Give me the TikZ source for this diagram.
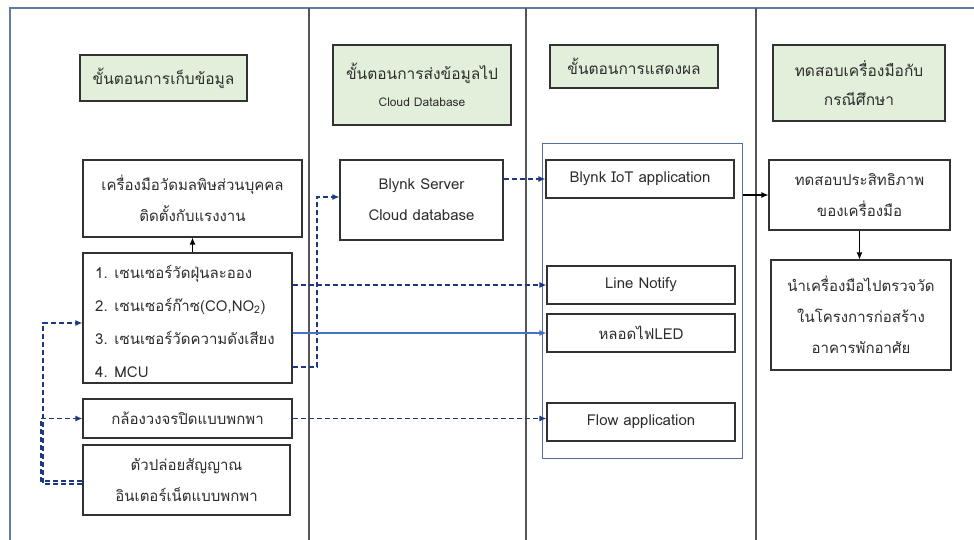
\documentclass[tikz,border=0pt]{standalone}
\usepackage{fontspec}
\setmainfont[Script=Thai]{Loma}
\usetikzlibrary{arrows.meta}
\definecolor{navyd}{RGB}{31,56,130}
\definecolor{lblue}{RGB}{68,114,196}
\definecolor{contc}{RGB}{84,110,160}
\definecolor{framec}{RGB}{100,120,170}
\definecolor{divc}{RGB}{85,85,85}
\definecolor{hdrfill}{RGB}{226,239,218}
\definecolor{boxc}{RGB}{50,50,50}
\definecolor{txtc}{RGB}{45,45,45}
\tikzset{
  hdr/.style={draw=boxc, line width=1.3pt, fill=hdrfill, align=center, inner sep=0pt, text=txtc, font=\fontsize{15.5}{29}\selectfont},
  bx/.style={draw=boxc, line width=1.1pt, align=center, inner sep=0pt, text=txtc, font=\fontsize{15}{31}\selectfont},
  contbox/.style={draw=contc, line width=1pt, inner sep=0pt},
  navyline/.style={draw=navyd, line width=1.2pt, dash pattern=on 5pt off 3pt, -{Latex[length=7pt,width=6pt]}},
  blueline/.style={draw=lblue, line width=1.2pt, -{Latex[length=7pt,width=6pt]}},
  blkline/.style={draw=black, line width=1.1pt, -{Latex[length=7pt,width=6pt]}},
  divline/.style={draw=divc, line width=1.7pt},
}
\begin{document}
\begin{tikzpicture}[x=1pt,y=-1pt]
\clip (0,0) rectangle (974,539);
\fill[white] (0,0) rectangle (974,539);
% outer frame
\draw[framec, line width=1.2pt] (10,560) -- (10,8) -- (990,8);
% column dividers
\draw[divline] (309,8) -- (309,560);
\draw[divline] (526,8) -- (526,560);
\draw[divline] (756,8) -- (756,560);
% headers
\node[hdr, minimum width=167pt, minimum height=46pt] (h1) at (163.5,78) {ขั้นตอนการเก็บข้อมูล};
\node[hdr, minimum width=178pt, minimum height=80pt] (h2) at (422,85) {ขั้นตอนการส่งข้อมูลไป\\[-2pt]{\fontsize{12}{13}\selectfont Cloud Database}};
\node[hdr, minimum width=168pt, minimum height=43pt] (h3) at (634,66.5) {ขั้นตอนการแสดงผล};
\node[hdr, minimum width=172pt, minimum height=76pt] (h4) at (859,83) {ทดสอบเครื่องมือกับ\\กรณีศึกษา};
% left column
\node[bx, minimum width=219pt, minimum height=77pt] (tool) at (192.5,198.5) {เครื่องมือวัดมลพิษส่วนบุคคล\\ติดตั้งกับแรงงาน};
\node[bx, minimum width=209pt, minimum height=130pt] (sensors) at (187.5,318) {};
\node[anchor=west, align=left, inner sep=0pt, text=txtc, font=\fontsize{15}{33}\selectfont] (items) at (95,321) {1. เซนเซอร์วัดฝุ่นละออง\\2. เซนเซอร์ก๊าซ(CO,NO\textsubscript{2})\\3. เซนเซอร์วัดความดังเสียง\\4. MCU};
\node[bx, minimum width=209pt, minimum height=39pt] (cam) at (187.5,418.5) {กล้องวงจรปิดแบบพกพา};
\node[bx, minimum width=207pt, minimum height=70pt] (inet) at (186.5,480) {ตัวปล่อยสัญญาณ\\อินเตอร์เน็ตแบบพกพา};
% middle
\node[bx, minimum width=163pt, minimum height=80pt] (blynk) at (421.5,200) {Blynk Server\\Cloud database};
\node[contbox, minimum width=200pt, minimum height=315pt] (cont) at (642,300.5) {};
\node[bx, minimum width=188pt, minimum height=38pt] (iot) at (640,179) {Blynk IoT application};
\node[bx, minimum width=188pt, minimum height=38pt] (line) at (641,285) {Line Notify};
\node[bx, minimum width=188pt, minimum height=38pt] (led) at (641,333) {หลอดไฟLED};
\node[bx, minimum width=188pt, minimum height=38pt] (flow) at (641,422) {Flow application};
% right
\node[bx, minimum width=181pt, minimum height=70pt] (test) at (859.5,195) {ทดสอบประสิทธิภาพ\\ของเครื่องมือ};
\node[bx, minimum width=180pt, minimum height=110pt] (meas) at (861,315) {นำเครื่องมือไปตรวจวัด\\ในโครงการก่อสร้าง\\อาคารพักอาศัย};
% connectors
\draw[blkline] (tool.south |- sensors.north) -- (tool.south);
\draw[navyline] (iot.west -| blynk.east) -- (iot.west);
\coordinate (bendA) at (317,197);
\draw[navyline] ([yshift=-49pt]sensors.east) -| (bendA) -- (blynk.west |- bendA);
\draw[navyline] (line.west -| sensors.east) -- (line.west);
\draw[blueline] (led.west -| sensors.east) -- (led.west);
\draw[navyline] (cam.east) -- (cam.east -| flow.west);
\draw[blkline] (test.west -| cont.east) -- (test.west);
\draw[blkline] (test.south) -- (test.south |- meas.north);
\coordinate (lb1) at (41,418.5);
\coordinate (lb2) at (43,323);
\draw[navyline] ([yshift=-1pt]inet.west) -| (lb1) -- (cam.west);
\draw[navyline] ([yshift=-4pt]inet.west) -| (lb2) -- (sensors.west |- lb2);
\end{tikzpicture}
\end{document}
